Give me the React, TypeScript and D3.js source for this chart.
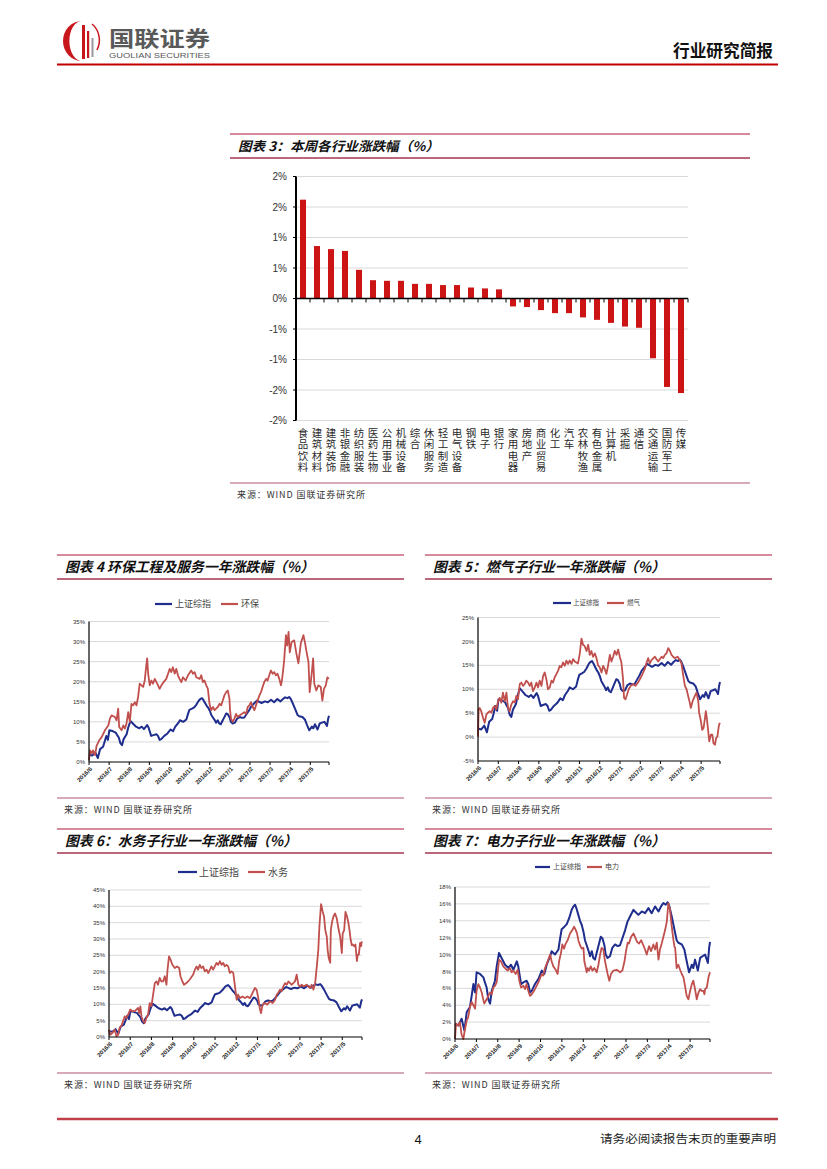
import React from "react";
import * as d3 from "d3";

type Pt = [number, number];

const SANS = "'Liberation Sans', Arial, sans-serif";
const CJK = "'Noto Sans CJK SC', 'Noto Sans', sans-serif";

// ---------- Chart 3 data ----------
const industries = [
  "食品饮料", "建筑材料", "建筑装饰", "非银金融", "纺织服装", "医药生物", "公用事业",
  "机械设备", "综合", "休闲服务", "轻工制造", "电气设备", "钢铁", "电子", "银行",
  "家用电器", "房地产", "商业贸易", "化工", "汽车", "农林牧渔", "有色金属", "计算机",
  "采掘", "通信", "交通运输", "国防军工", "传媒",
];
const weeklyChange = [
  1.62, 0.86, 0.81, 0.78, 0.47, 0.3, 0.29, 0.29, 0.24, 0.24, 0.22, 0.22, 0.18, 0.165, 0.15,
  -0.13, -0.14, -0.19, -0.24, -0.24, -0.31, -0.35, -0.4, -0.46, -0.48, -0.98, -1.45, -1.55,
];
const barTicks = [-2, -1.5, -1, -0.5, 0, 0.5, 1, 1.5, 2];
const barTickLabels = ["-2%", "-2%", "-1%", "-1%", "0%", "1%", "1%", "2%", "2%"];

// ---------- line charts (x = months since 2016/6/1) ----------
const monthLabels = [
  "2016/6", "2016/7", "2016/8", "2016/9", "2016/10", "2016/11", "2016/12",
  "2017/1", "2017/2", "2017/3", "2017/4", "2017/5",
];
const monthSpan = 11.93;

const szzs: Pt[] = [
  [0, 1.8], [0.16, 1.6], [0.31, 2.4], [0.44, 1.0], [0.55, 3.2], [0.7, 3.8], [0.78, 5.1], [0.86, 6.5],
  [0.94, 5.5], [1.01, 7.9], [1.17, 7.7], [1.33, 7.3], [1.4, 6.7], [1.48, 6.1], [1.56, 4.7], [1.64, 4.2],
  [1.72, 5.7], [1.87, 6.9], [1.95, 8.6], [2.06, 10.2], [2.18, 9.6], [2.34, 8.8], [2.5, 8.4], [2.62, 8.8],
  [2.73, 8.2], [2.89, 9.2], [2.96, 8.6], [3.09, 6.5], [3.2, 6.7], [3.35, 6.9], [3.43, 6.5], [3.51, 5.5],
  [3.59, 5.7], [3.74, 6.5], [3.9, 7.1], [4.06, 8.1], [4.18, 7.7], [4.29, 8.8], [4.45, 9.8], [4.52, 10.4],
  [4.68, 10.0], [4.84, 10.6], [4.91, 11.8], [4.99, 13.0], [5.12, 13.3], [5.23, 13.6], [5.34, 14.3],
  [5.46, 15.3], [5.54, 15.7], [5.62, 15.9], [5.69, 15.4], [5.77, 14.7], [5.85, 14.0], [5.93, 13.5],
  [6.01, 12.7], [6.08, 11.7], [6.16, 11.1], [6.24, 10.5], [6.32, 9.8], [6.4, 10.4], [6.47, 9.6],
  [6.55, 9.4], [6.63, 10.2], [6.71, 11.0], [6.82, 12.1], [6.9, 11.9], [6.99, 11.1], [7.05, 10.0],
  [7.14, 9.6], [7.25, 9.8], [7.36, 10.8], [7.49, 11.2], [7.61, 11.0], [7.72, 11.1], [7.8, 11.7],
  [7.96, 12.9], [8.07, 13.9], [8.19, 14.5], [8.35, 15.3], [8.42, 15.1], [8.58, 14.7], [8.74, 15.1],
  [8.89, 14.9], [9.05, 15.5], [9.2, 14.9], [9.36, 15.7], [9.52, 15.1], [9.64, 15.7], [9.75, 16.1],
  [9.86, 15.9], [9.95, 16.2], [10.02, 15.8], [10.14, 14.5], [10.27, 12.9], [10.37, 11.7], [10.45, 11.4],
  [10.61, 11.2], [10.73, 10.6], [10.84, 9.2], [10.95, 7.9], [11.08, 8.8], [11.15, 8.4], [11.23, 9.4],
  [11.36, 8.1], [11.47, 9.6], [11.58, 9.8], [11.7, 10.0], [11.78, 9.4], [11.83, 9.0], [11.89, 10.8],
  [11.93, 11.5],
];

const huanbao: Pt[] = [
  [0, 0.4], [0.05, 2.9], [0.13, 2.1], [0.2, 2.9], [0.3, 1.7], [0.38, 4.1], [0.51, 5.4], [0.63, 6.2],
  [0.79, 7.9], [0.96, 9.1], [1.04, 10.8], [1.12, 11.6], [1.29, 11.2], [1.37, 10.4], [1.45, 13.3],
  [1.5, 8.7], [1.62, 7.9], [1.7, 9.1], [1.78, 8.3], [1.86, 9.5], [1.95, 12.4], [2.03, 10], [2.11, 14.5],
  [2.19, 14.1], [2.28, 14.9], [2.36, 14.1], [2.44, 16.2], [2.52, 19.5], [2.61, 19.1], [2.69, 18.7],
  [2.77, 20.3], [2.82, 22.8], [2.89, 25.8], [2.94, 22], [3.02, 19.1], [3.1, 20.3], [3.18, 19.5],
  [3.27, 20.7], [3.35, 19.9], [3.43, 19.1], [3.51, 18.2], [3.6, 19.1], [3.71, 19.9], [3.84, 20.7],
  [3.93, 22], [4.01, 23.2], [4.09, 22.4], [4.17, 23.6], [4.26, 22], [4.34, 23.2], [4.42, 21.6],
  [4.5, 20.7], [4.59, 19.9], [4.67, 21.1], [4.8, 20.3], [4.92, 21.6], [5.08, 22.8], [5.17, 22],
  [5.25, 22.4], [5.33, 21.1], [5.5, 20.7], [5.58, 21.6], [5.66, 19.9], [5.74, 20.3], [5.83, 19.1],
  [5.91, 18.2], [5.99, 14.5], [6.07, 12.9], [6.16, 13.7], [6.24, 12.9], [6.32, 13.3], [6.4, 13.7],
  [6.49, 14.5], [6.57, 14.1], [6.65, 15.3], [6.73, 16.6], [6.82, 17.4], [6.9, 17.8], [6.98, 15.8],
  [7.01, 12.9], [7.06, 10.8], [7.15, 10], [7.23, 10.8], [7.31, 12], [7.39, 11.2], [7.48, 11.6],
  [7.61, 12], [7.72, 12.4], [7.81, 12], [7.89, 13.7], [7.97, 14.1], [8.05, 14.9], [8.14, 13.7],
  [8.22, 12.9], [8.3, 14.1], [8.38, 15.3], [8.47, 16.6], [8.55, 17.4], [8.63, 18.7], [8.71, 19.9],
  [8.8, 20.7], [8.88, 20.3], [8.96, 21.6], [9.04, 22.8], [9.13, 22], [9.21, 22.4], [9.29, 21.6],
  [9.37, 22], [9.46, 20.7], [9.54, 19.1], [9.59, 20.3], [9.65, 22.8], [9.7, 25.3], [9.79, 31.6],
  [9.85, 29], [9.92, 32.4], [9.98, 27.3], [10.07, 29.9], [10.2, 30.3], [10.31, 27], [10.41, 24.6],
  [10.53, 29.6], [10.66, 31.6], [10.74, 29.6], [10.83, 27], [10.91, 24.9], [10.97, 17.4], [11.07, 22],
  [11.14, 25.8], [11.2, 19.5], [11.3, 17.8], [11.4, 19.1], [11.52, 18.7], [11.6, 15.3], [11.68, 18.2],
  [11.77, 19.1], [11.85, 21.1], [11.92, 20.7],
];

const ranqi: Pt[] = [
  [0, 0.1], [0.03, 5.8], [0.08, 6.1], [0.16, 5.4], [0.25, 4.0], [0.33, 3.0], [0.41, 4.7], [0.49, 5.1],
  [0.58, 5.4], [0.66, 5.1], [0.74, 6.1], [0.82, 6.5], [0.9, 5.8], [0.99, 7.5], [1.07, 8.2], [1.15, 7.2],
  [1.23, 9.3], [1.32, 7.5], [1.4, 9.3], [1.48, 6.1], [1.56, 5.4], [1.64, 6.8], [1.73, 7.5], [1.81, 7.2],
  [1.89, 8.6], [1.97, 7.9], [2.06, 11.1], [2.14, 11.4], [2.22, 10.7], [2.3, 11.1], [2.38, 11.8],
  [2.47, 11.4], [2.55, 10.7], [2.63, 11.4], [2.71, 9.6], [2.8, 10.4], [2.88, 11.4], [2.96, 10.4],
  [3.04, 11.8], [3.13, 10.7], [3.21, 12.8], [3.29, 13.5], [3.37, 12.1], [3.45, 10], [3.54, 10.4],
  [3.62, 11.8], [3.7, 11.4], [3.78, 12.5], [3.87, 13.2], [3.95, 13.9], [4.03, 14.9], [4.11, 14.6],
  [4.19, 15.6], [4.28, 14.9], [4.36, 16], [4.44, 15.3], [4.52, 16], [4.61, 15.3], [4.69, 16.3],
  [4.77, 15.8], [4.93, 15.4], [5.02, 17.5], [5.1, 20.6], [5.18, 19.3], [5.26, 19], [5.35, 18],
  [5.43, 19.3], [5.51, 17.2], [5.59, 18], [5.67, 16.8], [5.76, 17.5], [5.84, 16.5], [5.92, 15],
  [6.0, 14.6], [6.09, 13.5], [6.17, 14.9], [6.25, 14.2], [6.33, 13.2], [6.41, 14.9], [6.5, 17.2],
  [6.58, 15.8], [6.66, 16.8], [6.74, 18], [6.83, 17.2], [6.91, 18.3], [6.99, 16.8], [7.07, 15.6],
  [7.15, 12.1], [7.2, 8.2], [7.27, 7.9], [7.35, 8.9], [7.43, 10], [7.53, 10.7], [7.65, 11.1],
  [7.76, 10.7], [7.89, 11.4], [8.03, 12.5], [8.14, 13.5], [8.22, 14.2], [8.31, 15.6], [8.39, 16.5],
  [8.47, 15.4], [8.55, 16.1], [8.72, 16.8], [8.88, 15.8], [9.05, 16.8], [9.13, 16.5], [9.21, 17.2],
  [9.29, 17.5], [9.38, 18.6], [9.46, 18], [9.54, 17.2], [9.62, 16.8], [9.7, 16.5], [9.84, 16.8],
  [9.95, 16.1], [10.03, 15.4], [10.12, 12.8], [10.2, 10.7], [10.28, 10], [10.36, 8.6], [10.44, 7.2],
  [10.49, 6.1], [10.58, 7.5], [10.69, 8.6], [10.77, 9.3], [10.86, 7.5], [10.9, 5.1], [10.99, 3.3],
  [11.05, 1.5], [11.12, 1.9], [11.18, 3.7], [11.23, 5.4], [11.28, 4.0], [11.35, 1.2], [11.4, -0.9],
  [11.48, 0.5], [11.55, 0.5], [11.61, -1.3], [11.68, -1.6], [11.74, -0.2], [11.8, 0.1], [11.87, 2.3],
  [11.92, 3.0],
];

const shuiwu: Pt[] = [
  [0, 2.2], [0.06, 0.7], [0.16, 1.2], [0.27, 2.2], [0.35, 0.2], [0.43, 0.7], [0.5, 2.8], [0.58, 3.3],
  [0.66, 4.8], [0.74, 6.3], [0.82, 5.8], [0.9, 6.8], [1.0, 8.4], [1.1, 7.9], [1.21, 7.9], [1.29, 8.4],
  [1.37, 8.9], [1.42, 7.3], [1.48, 9.4], [1.53, 6.3], [1.61, 4.8], [1.69, 4.3], [1.76, 5.8], [1.84, 6.8],
  [1.92, 10.4], [2.0, 9.4], [2.08, 13], [2.16, 16.5], [2.24, 17], [2.31, 16], [2.39, 18.1], [2.47, 17],
  [2.55, 17], [2.63, 18.6], [2.71, 16], [2.76, 20.6], [2.83, 24.7], [2.9, 23.7], [2.99, 22.1],
  [3.1, 21.1], [3.21, 21.6], [3.31, 21.1], [3.37, 18.6], [3.46, 17], [3.54, 16], [3.65, 16.5],
  [3.81, 17.6], [3.97, 19.1], [4.05, 20.6], [4.13, 21.6], [4.2, 20.6], [4.28, 22.1], [4.36, 21.1],
  [4.44, 21.6], [4.52, 20.1], [4.6, 20.6], [4.68, 19.6], [4.76, 20.6], [4.83, 21.6], [4.91, 20.6],
  [4.99, 21.6], [5.07, 22.7], [5.15, 22.1], [5.23, 23.2], [5.31, 22.1], [5.39, 22.7], [5.46, 21.6],
  [5.54, 22.1], [5.62, 21.6], [5.7, 19.6], [5.78, 20.1], [5.86, 19.6], [5.94, 15.5], [6.02, 11.4],
  [6.09, 13], [6.17, 11.9], [6.3, 12.4], [6.41, 11.9], [6.52, 12.4], [6.65, 11.9], [6.77, 13.5],
  [6.88, 15], [6.96, 14.5], [7.04, 11.9], [7.12, 8.4], [7.17, 7.3], [7.24, 9.9], [7.35, 10.4],
  [7.46, 9.9], [7.59, 10.9], [7.72, 10.4], [7.83, 11.4], [7.91, 13], [7.98, 13.5], [8.06, 14.5],
  [8.14, 14], [8.22, 15.5], [8.3, 16.5], [8.38, 16], [8.46, 17], [8.54, 16.5], [8.61, 16], [8.69, 16.5],
  [8.77, 17], [8.85, 19.1], [8.93, 16], [9.0, 15.5], [9.09, 16], [9.17, 15.5], [9.32, 16], [9.4, 15.5],
  [9.48, 15], [9.56, 16], [9.64, 14.5], [9.72, 16.5], [9.8, 21.6], [9.87, 26.7], [9.92, 33.7],
  [10.0, 40.7], [10.08, 38.3], [10.14, 36.8], [10.2, 32.7], [10.27, 30.7], [10.31, 26.7], [10.36, 24.2],
  [10.43, 22.7], [10.46, 32.7], [10.52, 35.3], [10.58, 36.8], [10.66, 37.8], [10.74, 36.3],
  [10.82, 33.2], [10.9, 30.7], [10.94, 28.1], [10.98, 25.7], [11.02, 31.7], [11.09, 32.7],
  [11.15, 38.3], [11.21, 37.2], [11.28, 35.3], [11.34, 32.7], [11.4, 29.6], [11.45, 28.1], [11.5, 28.3],
  [11.56, 27.8], [11.62, 28.3], [11.69, 23.2], [11.73, 25.2], [11.78, 25.2], [11.84, 28.8],
  [11.89, 27.8], [11.92, 29.3],
];

const dianli: Pt[] = [
  [0, 0], [0.05, 1.8], [0.16, 1.6], [0.23, 2.0], [0.31, 0.5], [0.39, 0], [0.47, 1.2], [0.55, 2.2],
  [0.62, 2.6], [0.7, 3.8], [0.78, 4.4], [0.86, 4.0], [0.94, 3.6], [1.01, 5.7], [1.09, 6.5], [1.17, 6.1],
  [1.25, 5.5], [1.33, 4.6], [1.37, 4.2], [1.48, 4.7], [1.56, 5.1], [1.64, 5.5], [1.72, 5.3], [1.79, 6.1],
  [1.87, 6.3], [1.95, 6.7], [2.06, 9.4], [2.15, 9.2], [2.26, 8.6], [2.34, 8.4], [2.46, 8.1], [2.57, 8.4],
  [2.65, 7.9], [2.73, 8.1], [2.84, 7.7], [2.93, 8.2], [3.01, 6.9], [3.09, 6.1], [3.2, 6.3], [3.28, 5.9],
  [3.35, 6.5], [3.43, 5.7], [3.51, 5.1], [3.59, 5.3], [3.74, 5.9], [3.9, 6.7], [4.06, 7.7], [4.13, 7.5],
  [4.21, 8.4], [4.34, 9.2], [4.45, 10], [4.52, 9.2], [4.6, 8.6], [4.71, 8.2], [4.8, 7.7], [4.87, 9.2],
  [4.96, 10.2], [5.02, 11.2], [5.1, 10.7], [5.18, 11.3], [5.27, 11.7], [5.38, 12.5], [5.49, 12.9],
  [5.57, 13.3], [5.65, 12.9], [5.71, 12.5], [5.77, 11.7], [5.85, 11.1], [5.93, 10.7], [6.01, 10.8],
  [6.05, 9.2], [6.12, 8.4], [6.16, 7.9], [6.21, 8.4], [6.27, 8.1], [6.35, 8.6], [6.43, 8.1], [6.52, 8.4],
  [6.63, 7.9], [6.71, 8.8], [6.79, 10], [6.86, 10.8], [6.94, 10.6], [7.02, 9.2], [7.14, 7.7],
  [7.22, 6.9], [7.3, 7.7], [7.41, 8.1], [7.57, 8.2], [7.72, 7.9], [7.83, 8.1], [7.93, 9.2], [8.0, 10.4],
  [8.08, 11.4], [8.14, 11.3], [8.24, 12.1], [8.35, 12.5], [8.42, 12.1], [8.52, 11.5], [8.61, 11.3],
  [8.71, 11.7], [8.81, 11.1], [8.89, 10.6], [8.97, 10], [9.08, 11], [9.17, 10.4], [9.28, 11.2],
  [9.36, 10.6], [9.44, 11.4], [9.52, 9.4], [9.59, 10.6], [9.67, 11.3], [9.75, 12.1], [9.83, 12.9],
  [9.91, 13.9], [9.98, 16.1], [10.06, 15.3], [10.14, 13.3], [10.22, 11.7], [10.27, 10.9], [10.3, 10.8],
  [10.37, 8.4], [10.45, 8.8], [10.53, 8.2], [10.61, 7.7], [10.69, 7.3], [10.76, 6.3], [10.84, 5.1],
  [10.92, 4.7], [11.0, 5.7], [11.08, 6.5], [11.15, 6.9], [11.23, 5.9], [11.31, 4.7], [11.39, 5.5],
  [11.47, 5.9], [11.54, 5.7], [11.62, 5.7], [11.67, 5.3], [11.7, 5.9], [11.78, 6.1], [11.86, 7.3],
  [11.93, 7.9],
];

const BLUE = "#1f2d8c";
const RED = "#c0504d";
const RULE_TOP = "#c9657c";
const RULE_BOT = "#a3344f";
const RULE_SRC = "#c98ea0";

function SectionFrame(props: {
  x0: number; x1: number; top: number; title: string; titleWidth: number; titleSize: number;
  srcY: number;
}) {
  const { x0, x1, top, title, titleWidth, titleSize, srcY } = props;
  return (
    <g>
      <line x1={x0} x2={x1} y1={top} y2={top} stroke={RULE_TOP} strokeWidth={1.3} />
      <text x={x0 + 8} y={top + 16.5} fontFamily={CJK} fontWeight={700} fontStyle="italic"
        fontSize={titleSize} fill="#111" textLength={titleWidth} lengthAdjust="spacingAndGlyphs">{title}</text>
      <line x1={x0} x2={x1} y1={top + 24} y2={top + 24} stroke={RULE_BOT} strokeWidth={1.5} />
      <line x1={x0} x2={x1} y1={srcY} y2={srcY} stroke={RULE_SRC} strokeWidth={1.5} />
      <text x={x0 + 7} y={srcY + 15} fontFamily={CJK} fontSize={9} fill="#333"
        textLength={128} lengthAdjust="spacing">来源：WIND 国联证券研究所</text>
    </g>
  );
}

function LineChart(props: {
  x0: number; x1: number; top: number; title: string; titleWidth: number; srcY: number;
  plotX0: number; plotX1: number; plotYTop: number; plotYBot: number;
  yTicks: number[]; red: Pt[]; redName: string;
  lg: { y: number; b0: number; b1: number; bt: number; r0: number; r1: number; rt: number; size: number };
}) {
  const p = props;
  const x = d3.scaleLinear().domain([0, monthSpan]).range([p.plotX0, p.plotX1]);
  const y = d3.scaleLinear().domain([p.yTicks[0], p.yTicks[p.yTicks.length - 1]]).range([p.plotYBot, p.plotYTop]);
  const line = d3.line<Pt>().x((d) => x(d[0])).y((d) => y(d[1]));
  const lg = p.lg;
  return (
    <g>
      <SectionFrame x0={p.x0} x1={p.x1} top={p.top} title={p.title} titleWidth={p.titleWidth}
        titleSize={14} srcY={p.srcY} />
      {/* legend */}
      <line x1={lg.b0} x2={lg.b1} y1={lg.y} y2={lg.y} stroke={BLUE} strokeWidth={2.2} />
      <text x={lg.bt} y={lg.y} dy="0.35em" fontFamily={CJK} fontSize={lg.size} fill="#444">上证综指</text>
      <line x1={lg.r0} x2={lg.r1} y1={lg.y} y2={lg.y} stroke={RED} strokeWidth={2.2} />
      <text x={lg.rt} y={lg.y} dy="0.35em" fontFamily={CJK} fontSize={lg.size} fill="#444">{p.redName}</text>
      {/* grid + y labels */}
      {p.yTicks.map((t, i) => (
        <g key={"g" + i}>
          {i > 0 && (
            <line x1={p.plotX0} x2={p.plotX1} y1={y(t)} y2={y(t)} stroke="#d9d9d9" strokeWidth={1} />
          )}
          <text x={p.plotX0 - 4} y={y(t)} dy="0.35em" textAnchor="end" fontFamily={SANS}
            fontSize={6} fill="#333">{t + "%"}</text>
        </g>
      ))}
      <path d={line(szzs) || ""} fill="none" stroke={BLUE} strokeWidth={2} strokeLinejoin="round" />
      <path d={line(p.red) || ""} fill="none" stroke={RED} strokeWidth={1.8} strokeLinejoin="round" />
      {/* axes */}
      <line x1={p.plotX0} x2={p.plotX0} y1={p.plotYTop} y2={p.plotYBot} stroke="#000" strokeWidth={1.2} />
      <line x1={p.plotX0} x2={p.plotX1} y1={p.plotYBot} y2={p.plotYBot} stroke="#000" strokeWidth={1.2} />
      {monthLabels.map((m, i) => (
        <g key={m}>
          <line x1={x(i)} x2={x(i)} y1={p.plotYBot} y2={p.plotYBot + 3} stroke="#000" strokeWidth={1} />
          <text transform={`translate(${x(i) + 2},${p.plotYBot + 6}) rotate(-45)`} textAnchor="end"
            dy="0.35em" fontFamily={SANS} fontWeight={700} fontSize={6} fill="#222">{m}</text>
        </g>
      ))}
      <line x1={p.plotX1} x2={p.plotX1} y1={p.plotYBot} y2={p.plotYBot + 3} stroke="#000" strokeWidth={1} />
    </g>
  );
}

function BarChart() {
  const x0 = 296, x1 = 688, yTop = 176.5, yBot = 420.5;
  const x = d3.scaleBand<string>().domain(industries).range([x0, x1]).paddingInner(0.57).paddingOuter(0.285);
  const y = d3.scaleLinear().domain([-2, 2]).range([yBot, yTop]);
  const step = x.step();
  return (
    <g>
      <SectionFrame x0={230} x1={750} top={134} title="图表 3：本周各行业涨跌幅（%）" titleWidth={201}
        titleSize={13} srcY={483} />
      {barTicks.map((t, i) => (
        <g key={"t" + i}>
          {t !== 0 && <line x1={x0} x2={x1} y1={y(t)} y2={y(t)} stroke="#d9d9d9" strokeWidth={1} />}
          <line x1={x0 - 3} x2={x0} y1={y(t)} y2={y(t)} stroke="#000" strokeWidth={1} />
          <text x={287} y={y(t)} dy="0.35em" textAnchor="end" fontFamily={SANS} fontSize={10}
            fill="#333">{barTickLabels[i]}</text>
        </g>
      ))}
      {industries.map((c, i) => {
        const v = weeklyChange[i];
        return (
          <rect key={c} x={x(c)} width={x.bandwidth()} y={y(Math.max(0, v))}
            height={Math.abs(y(v) - y(0))} fill="#cc1414" />
        );
      })}
      <line x1={x0} x2={x1} y1={y(0)} y2={y(0)} stroke="#000" strokeWidth={1.5} />
      {industries.map((c, i) => (
        <line key={"k" + c} x1={x0 + step * (i + 1)} x2={x0 + step * (i + 1)} y1={y(0)} y2={y(0) + 4}
          stroke="#000" strokeWidth={1} />
      ))}
      <line x1={x0} x2={x0} y1={yTop} y2={yBot} stroke="#000" strokeWidth={2} />
      {industries.map((c) => (
        <text key={"l" + c} x={(x(c) || 0) + x.bandwidth() / 2} y={427.5}
          style={{ writingMode: "vertical-rl" }} fontFamily={CJK} fontSize={10.5} letterSpacing={1}
          fill="#2a2a2a">{c}</text>
      ))}
    </g>
  );
}

function Header() {
  return (
    <g>
      <path d="M 82 21 A 19 20 0 0 0 82 61 A 12 19 0 0 1 82 21 Z" fill="#c8161d" />
      <rect x={82} y={25} width={3} height={34} fill="#c8161d" />
      <rect x={87} y={31} width={2.2} height={27} fill="#c8161d" />
      <rect x={91.5} y={38} width={2} height={19} fill="#9a9a9a" />
      <path d="M 92 24 A 18 20 0 0 1 97 50" fill="none" stroke="#c8161d" strokeWidth={1.5} />
      <text x={109} y={46} fontFamily={CJK} fontWeight={700} fontSize={21} fill="#595959"
        textLength={101} lengthAdjust="spacingAndGlyphs">国联证券</text>
      <text x={109} y={58} fontFamily={SANS} fontSize={6.5} fill="#595959" textLength={101}
        lengthAdjust="spacingAndGlyphs">GUOLIAN SECURITIES</text>
      <text x={773} y={57} textAnchor="end" fontFamily={CJK} fontWeight={700} fontSize={17} fill="#111"
        textLength={100} lengthAdjust="spacingAndGlyphs">行业研究简报</text>
      <line x1={57} x2={778} y1={64.5} y2={64.5} stroke="#c00000" strokeWidth={2} />
    </g>
  );
}

function Footer() {
  return (
    <g>
      <line x1={57} x2={778} y1={1119} y2={1119} stroke="#c0404a" strokeWidth={2.5} />
      <text x={418} y={1144} textAnchor="middle" fontFamily={SANS} fontSize={13} fill="#111">4</text>
      <text x={600} y={1143} fontFamily={CJK} fontSize={11.5} fill="#222" textLength={176}
        lengthAdjust="spacingAndGlyphs">请务必阅读报告末页的重要声明</text>
    </g>
  );
}

export default function App() {
  return (
    <div style={{ position: "absolute", left: 0, top: 0, width: 827, height: 1169, background: "#fff" }}>
      <svg width={827} height={1169} viewBox="0 0 827 1169" style={{ display: "block" }}>
        <rect width={827} height={1169} fill="#fff" />
        <Header />
        <BarChart />
        <LineChart x0={57} x1={404} top={555} title="图表 4 环保工程及服务一年涨跌幅（%）" titleWidth={249}
          srcY={798} plotX0={89} plotX1={329} plotYTop={621.5} plotYBot={762}
          yTicks={[0, 5, 10, 15, 20, 25, 30, 35]} red={huanbao} redName="环保"
          lg={{ y: 604, b0: 155, b1: 172, bt: 175, r0: 221, r1: 238, rt: 241, size: 9 }} />
        <LineChart x0={425} x1={772} top={555} title="图表 5：燃气子行业一年涨跌幅（%）" titleWidth={232}
          srcY={798} plotX0={478} plotX1={720} plotYTop={617.5} plotYBot={761}
          yTicks={[-5, 0, 5, 10, 15, 20, 25]} red={ranqi} redName="燃气"
          lg={{ y: 603, b0: 553, b1: 571, bt: 573, r0: 607, r1: 624, rt: 627, size: 6.5 }} />
        <LineChart x0={57} x1={404} top={829} title="图表 6：水务子行业一年涨跌幅（%）" titleWidth={232}
          srcY={1073} plotX0={109} plotX1={362} plotYTop={890} plotYBot={1037}
          yTicks={[0, 5, 10, 15, 20, 25, 30, 35, 40, 45]} red={shuiwu} redName="水务"
          lg={{ y: 872, b0: 178, b1: 197, bt: 199, r0: 248, r1: 265, rt: 268, size: 10 }} />
        <LineChart x0={425} x1={772} top={829} title="图表 7：电力子行业一年涨跌幅（%）" titleWidth={232}
          srcY={1073} plotX0={455} plotX1={710} plotYTop={887} plotYBot={1039}
          yTicks={[0, 2, 4, 6, 8, 10, 12, 14, 16, 18]} red={dianli} redName="电力"
          lg={{ y: 867, b0: 535, b1: 550, bt: 553, r0: 587, r1: 602, rt: 605, size: 7 }} />
        <Footer />
      </svg>
    </div>
  );
}
